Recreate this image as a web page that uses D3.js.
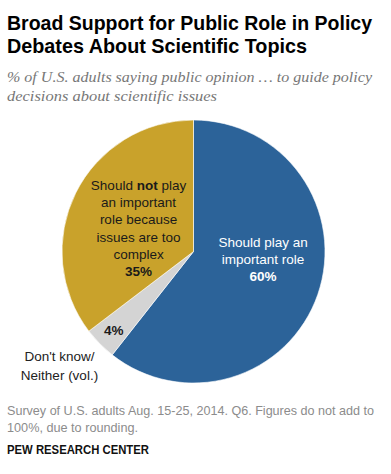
<!DOCTYPE html>
<html>
<head>
<meta charset="utf-8">
<script src="https://cdn.jsdelivr.net/npm/d3@7"></script>
<style>
  body { margin: 0; background: #fff; }
  svg { font-family: "Liberation Sans", Arial, sans-serif; }
  .sub { font-family: "Liberation Serif", "DejaVu Serif", "Times New Roman", Georgia, serif; font-style: italic; }
</style>
</head>
<body>
<div id="chart"></div>
<script>
// data
var categories = ["Should play an important role", "Don't know/ Neither (vol.)", "Should not play an important role because issues are too complex"];
var values = [60, 4, 35];
var colors = ["#2c6399", "#d4d4d4", "#c9a22b"];

var width = 391, height = 474;
var cx = 193.5, cy = 251.5, radius = 131.5;

var svg = d3.select("#chart").append("svg")
    .attr("width", width)
    .attr("height", height);

// fit a text line to a measured width
function fit(t, w) {
  t.attr("textLength", w).attr("lengthAdjust", "spacingAndGlyphs");
}

// title
fit(svg.append("text").attr("x", 7).attr("y", 29.5)
    .style("font-size", "20.5px").style("font-weight", "bold").attr("fill", "#000")
    .text("Broad Support for Public Role in Policy"), 365);
fit(svg.append("text").attr("x", 7).attr("y", 52.5)
    .style("font-size", "20.5px").style("font-weight", "bold").attr("fill", "#000")
    .text("Debates About Scientific Topics"), 300);

// subtitle
fit(svg.append("text").attr("class", "sub").attr("x", 7).attr("y", 82)
    .style("font-size", "15.5px").attr("fill", "#777")
    .text("% of U.S. adults saying public opinion \u2026 to guide policy"), 365);
fit(svg.append("text").attr("class", "sub").attr("x", 7).attr("y", 100.5)
    .style("font-size", "15.5px").attr("fill", "#777")
    .text("decisions about scientific issues"), 210);

// pie
var pie = d3.pie().sort(null).value(function(d) { return d; });
var arc = d3.arc().innerRadius(0).outerRadius(radius);
var arcs = pie(values);

var g = svg.append("g").attr("transform", "translate(" + cx + "," + cy + ")");

g.selectAll("path")
    .data(arcs)
    .enter().append("path")
    .attr("d", arc)
    .attr("fill", function(d, i) { return colors[i]; })
    .attr("stroke", "#fff")
    .attr("stroke-width", 0.6);

// labels: polar position in degrees from 12 o'clock
function polar(deg, r) {
  var a = deg * Math.PI / 180;
  return [r * Math.sin(a), -r * Math.cos(a)];
}

var lineH = 17.3;

function block(p, lines, fill) {
  var t = g.append("text")
      .attr("text-anchor", "middle")
      .attr("fill", fill)
      .style("font-size", "13.5px");
  var y0 = p[1] - (lines.length - 1) * lineH / 2 + 4.5;
  lines.forEach(function(l, i) {
    var line = t.append("tspan").attr("x", p[0]).attr("y", y0 + i * lineH);
    l.forEach(function(part) {
      line.append("tspan")
          .style("font-weight", part.b ? "bold" : "normal")
          .text(part.s);
    });
  });
}

// blue slice
block(polar(96.5, 70), [
  [{s: "Should play an"}],
  [{s: "important role"}],
  [{s: values[0] + "%", b: true}]
], "#fff");

// gold slice
block(polar(292.7, 59.6), [
  [{s: "Should "}, {s: "not", b: true}, {s: " play"}],
  [{s: "an important"}],
  [{s: "role because"}],
  [{s: "issues are too"}],
  [{s: "complex"}],
  [{s: values[2] + "%", b: true}]
], "#1a1a1a");

// gray slice
var mid = (arcs[1].startAngle + arcs[1].endAngle) / 2 * 180 / Math.PI;
block(polar(mid, 112), [[{s: values[1] + "%", b: true}]], "#1a1a1a");

// outside label for gray slice
var lab = svg.append("text")
    .attr("text-anchor", "middle")
    .attr("fill", "#222")
    .style("font-size", "13.5px");
lab.append("tspan").attr("x", 59.5).attr("y", 361).text("Don't know/");
lab.append("tspan").attr("x", 59.5).attr("y", 379.5).text("Neither (vol.)");

// footer
var foot = svg.append("g").attr("fill", "#8c8c8c").style("font-size", "13px");
fit(foot.append("text").attr("x", 7).attr("y", 415).text("Survey of U.S. adults Aug. 15-25, 2014. Q6. Figures do not add to"), 367);
fit(foot.append("text").attr("x", 7).attr("y", 432).text("100%, due to rounding."), 131);

fit(svg.append("text").attr("x", 7).attr("y", 454)
    .style("font-size", "12.5px").style("font-weight", "bold").attr("fill", "#111")
    .text("PEW RESEARCH CENTER"), 142);
</script>
</body>
</html>
